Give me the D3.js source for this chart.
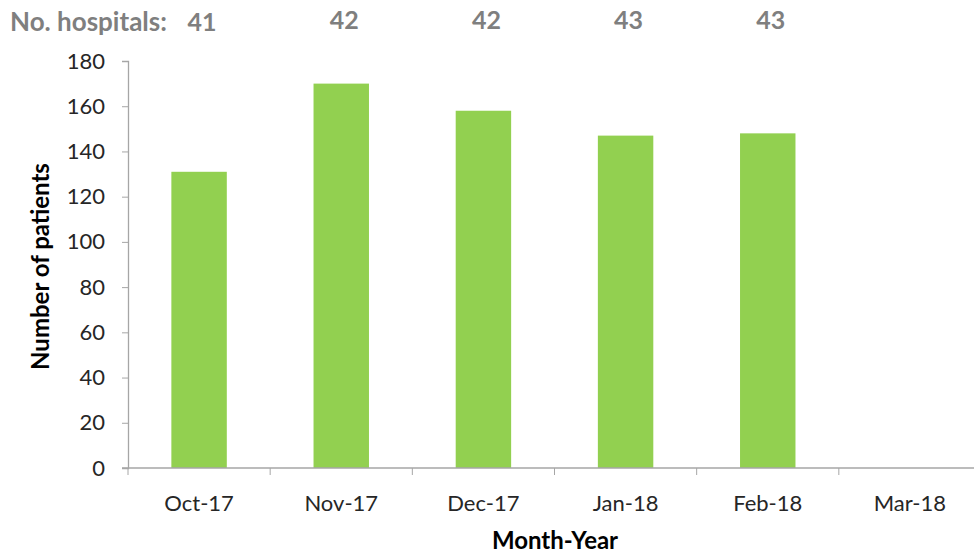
<!DOCTYPE html>
<html>
<head>
<meta charset="utf-8">
<script src="https://cdn.jsdelivr.net/npm/d3@7"></script>
<style>
  body { margin: 0; background: #fff; }
  svg { display: block; font-family: Lato, "Open Sans", sans-serif; }
</style>
</head>
<body>
<svg id="chart" width="974" height="555"></svg>
<script>
var months = ["Oct-17", "Nov-17", "Dec-17", "Jan-18", "Feb-18", "Mar-18"];
var patients = [131, 170, 158, 147, 148, null];
var hospitals = [41, 42, 42, 43, 43];
var yTicks = [0, 20, 40, 60, 80, 100, 120, 140, 160, 180];

var svg = d3.select("#chart");
var mLeft = 128, mRight = 981, mTop = 61, mBottom = 468;

var x = d3.scaleBand().domain(months).range([mLeft, mRight]).paddingInner(0).paddingOuter(0);
var y = d3.scaleLinear().domain([0, 180]).range([mBottom, mTop]);

// y axis
var yAxis = svg.append("g")
  .attr("transform", "translate(" + mLeft + ",0)")
  .call(d3.axisLeft(y).tickValues(yTicks).tickSize(6).tickPadding(17));
yAxis.select(".domain").attr("stroke", "#a6a6a6").attr("stroke-width", 1.3);
yAxis.selectAll(".tick line").attr("stroke", "#a6a6a6");
yAxis.selectAll("text").attr("font-size", 22).attr("fill", "#262626")
  .attr("font-family", "Lato, sans-serif");

// bars
svg.append("g").selectAll("rect")
  .data(months.map(function(m, i) { return {m: m, v: patients[i]}; }).filter(function(d) { return d.v != null; }))
  .enter().append("rect")
  .attr("x", function(d) { return x(d.m) + x.bandwidth() * 0.305; })
  .attr("width", x.bandwidth() * 0.39)
  .attr("y", function(d) { return y(d.v); })
  .attr("height", function(d) { return y(0) - y(d.v); })
  .attr("fill", "#92d050");

// x axis
var xg = svg.append("g").attr("transform", "translate(0," + mBottom + ")");
xg.append("line").attr("x1", mLeft - 6).attr("x2", mRight).attr("stroke", "#a6a6a6").attr("stroke-width", 1.3);
xg.selectAll(".tk").data(months).enter().append("line")
  .attr("x1", function(d) { return x(d); }).attr("x2", function(d) { return x(d); })
  .attr("y1", 0).attr("y2", 7).attr("stroke", "#a6a6a6");
xg.selectAll("text").data(months).enter().append("text")
  .attr("x", function(d) { return x(d) + x.bandwidth() / 2; })
  .attr("y", 43)
  .attr("text-anchor", "middle")
  .attr("font-size", 22).attr("fill", "#262626")
  .text(function(d) { return d; });

// hospital counts
svg.append("text").attr("x", 10).attr("y", 31)
  .attr("font-size", 26).attr("font-weight", "bold").attr("fill", "#7f7f7f")
  .text("No. hospitals:");
svg.append("g").selectAll("text").data(hospitals).enter().append("text")
  .attr("x", function(d, i) { return x(months[i]) + x.bandwidth() / 2 + 3; })
  .attr("y", function(d, i) { return i === 0 ? 31 : 29; })
  .attr("text-anchor", "middle")
  .attr("font-size", 25).attr("font-weight", "bold").attr("fill", "#7f7f7f")
  .text(function(d) { return d; });

// axis titles
svg.append("text")
  .attr("transform", "translate(49," + ((mTop + mBottom) / 2 + 2) + ") rotate(-90)")
  .attr("text-anchor", "middle")
  .attr("font-size", 24).attr("font-weight", "bold").attr("fill", "#000")
  .text("Number of patients");
svg.append("text")
  .attr("x", 555).attr("y", 549)
  .attr("text-anchor", "middle")
  .attr("font-size", 24).attr("font-weight", "bold").attr("fill", "#000")
  .text("Month-Year");
</script>
</body>
</html>
